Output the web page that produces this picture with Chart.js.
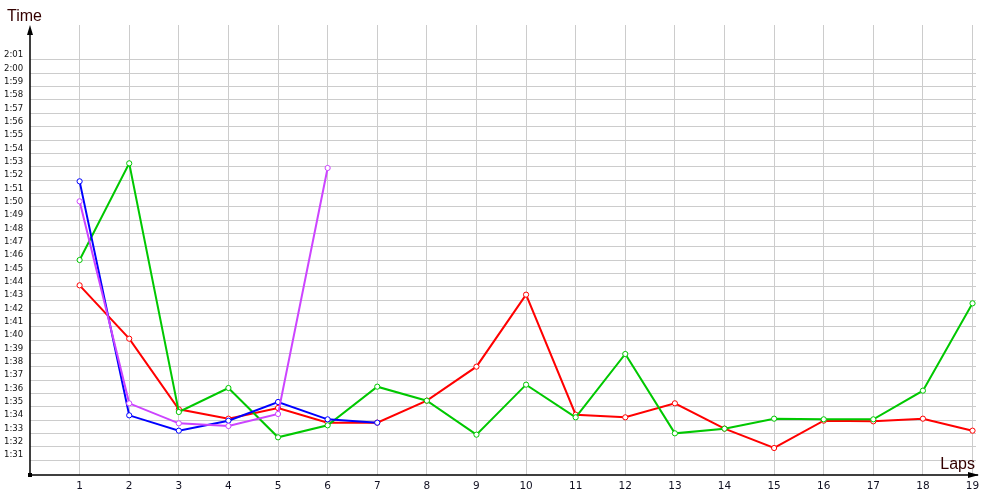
<!DOCTYPE html>
<html>
<head>
<meta charset="utf-8">
<script src="https://cdn.jsdelivr.net/npm/chart.js@4.4.1/dist/chart.umd.min.js"></script>
<style>
  body { margin: 0; background: #fff; }
  canvas { display: block; }
</style>
</head>
<body>
<canvas id="lapChart" width="1000" height="500"></canvas>
<script>
// lap times in seconds
const laps = [1, 2, 3, 4, 5, 6, 7, 8, 9, 10, 11, 12, 13, 14, 15, 16, 17, 18, 19];
const redTimes = [104.1, 100.1, 94.8, 94.1, 94.9, 93.8, 93.8, 95.45, 98.0, 103.4, 94.4, 94.2, 95.25, 93.35, 91.9, 93.95, 93.9, 94.1, 93.2];
const greenTimes = [106.0, 113.25, 94.6, 96.4, 92.7, 93.6, 96.5, 95.45, 92.9, 96.65, 94.2, 98.95, 93.0, 93.35, 94.1, 94.05, 94.05, 96.2, 102.75];
const blueTimes = [111.9, 94.35, 93.2, 93.95, 95.35, 94.05, 93.8];
const violetTimes = [110.4, 95.25, 93.75, 93.55, 94.45, 112.9];
const timeTicks = [91, 92, 93, 94, 95, 96, 97, 98, 99, 100, 101, 102, 103, 104, 105, 106, 107, 108, 109, 110,
                   111, 112, 113, 114, 115, 116, 117, 118, 119, 120, 121];

function fmtTime(sec) {
    const m = Math.floor(sec / 60);
    const s = Math.round(sec - m * 60);
    return m + ':' + (s < 10 ? '0' : '') + s;
}

function toPoints(times) {
    return times.map((t, i) => ({ x: laps[i], y: t }));
}

function lapLine(times, color, order) {
    return {
        data: toPoints(times),
        borderColor: color,
        borderWidth: 2,
        pointRadius: 2.6,
        pointBorderWidth: 1,
        pointBorderColor: color,
        pointBackgroundColor: '#fff',
        tension: 0,
        order: order
    };
}

// arrows, origin marker and axis names
const axisArrows = {
    id: 'axisArrows',
    afterDraw(chart) {
        const ctx = chart.ctx;
        const a = chart.chartArea;
        const x0 = a.left, y0 = a.bottom;
        ctx.save();
        ctx.strokeStyle = '#000';
        ctx.fillStyle = '#000';
        ctx.lineWidth = 1.5;
        ctx.beginPath();
        ctx.moveTo(x0, y0);
        ctx.lineTo(x0, a.top + 4);
        ctx.moveTo(x0, y0);
        ctx.lineTo(a.right + 2, y0);
        ctx.stroke();
        // up arrow
        ctx.beginPath();
        ctx.moveTo(x0, a.top);
        ctx.lineTo(x0 - 3, a.top + 10);
        ctx.lineTo(x0 + 3, a.top + 10);
        ctx.closePath();
        ctx.fill();
        // right arrow
        ctx.beginPath();
        ctx.moveTo(a.right + 3, y0);
        ctx.lineTo(a.right - 8, y0 - 3);
        ctx.lineTo(a.right - 8, y0 + 3);
        ctx.closePath();
        ctx.fill();
        ctx.fillRect(x0 - 2, y0 - 2, 4, 4);

        ctx.fillStyle = '#300';
        ctx.font = '16px "Liberation Sans", Arial, sans-serif';
        ctx.textBaseline = 'alphabetic';
        ctx.textAlign = 'left';
        ctx.fillText('Time', 7, 21);
        ctx.textAlign = 'right';
        ctx.fillText('Laps', 975, 469);
        ctx.restore();
    }
};

document.addEventListener('DOMContentLoaded', function () {
    const ctx = document.getElementById('lapChart').getContext('2d');
    new Chart(ctx, {
        type: 'line',
        data: {
            datasets: [
                lapLine(redTimes, '#ff0000', 4),
                lapLine(greenTimes, '#00c800', 3),
                lapLine(blueTimes, '#0000ff', 2),
                lapLine(violetTimes, '#cc44ff', 1)
            ]
        },
        options: {
            responsive: false,
            animation: false,
            devicePixelRatio: 1,
            layout: { padding: { top: 25, left: 4, right: 24, bottom: 0 } },
            plugins: {
                legend: { display: false },
                tooltip: { enabled: false }
            },
            scales: {
                x: {
                    type: 'linear',
                    min: 0,
                    max: 19.07,
                    afterBuildTicks: scale => { scale.ticks = laps.map(v => ({ value: v })); },
                    afterFit: scale => { scale.height = 25; },
                    border: { display: false },
                    grid: { color: '#cccccc', lineWidth: 1, drawTicks: false },
                    ticks: {
                        padding: 5,
                        maxRotation: 0,
                        autoSkip: false,
                        color: '#111122',
                        font: { family: 'DejaVu Sans', size: 10.5 },
                        callback: v => String(v)
                    }
                },
                y: {
                    type: 'linear',
                    min: 89.875,
                    max: 123.625,
                    afterBuildTicks: scale => { scale.ticks = timeTicks.map(v => ({ value: v })); },
                    afterFit: scale => { scale.width = 26; },
                    border: { display: false },
                    grid: { color: '#cccccc', lineWidth: 1, drawTicks: false },
                    ticks: {
                        crossAlign: 'far',
                        labelOffset: -5,
                        autoSkip: false,
                        color: '#111',
                        font: { family: '"DejaVu Sans Condensed", "DejaVu Sans"', size: 9.5 },
                        callback: v => fmtTime(v)
                    }
                }
            }
        },
        plugins: [axisArrows]
    });
});
</script>
</body>
</html>
